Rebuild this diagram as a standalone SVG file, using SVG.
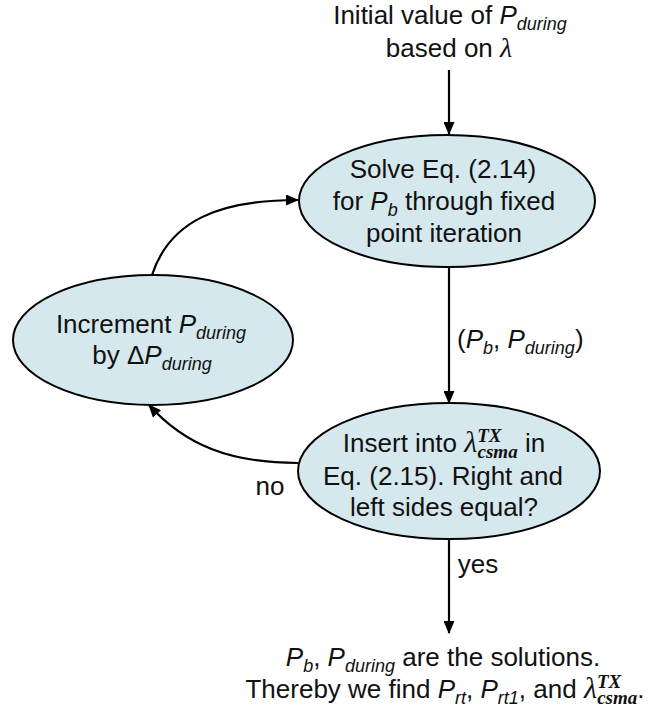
<svg xmlns="http://www.w3.org/2000/svg" width="651" height="717" viewBox="0 0 651 717">
<defs>
<marker id="arr" markerWidth="13" markerHeight="11" refX="12" refY="5.5" orient="auto" markerUnits="userSpaceOnUse">
<path d="M0,0 L13,5.5 L0,11 Z" fill="#000"/>
</marker>
<style>
text{font-family:"Liberation Sans",Arial,sans-serif;font-size:26px;fill:#111;text-anchor:middle}
.i{font-style:italic}
.s{font-size:18px;font-style:italic}
.m{font-family:"Liberation Serif","Times New Roman",serif;font-style:italic}
.ms{font-family:"Liberation Serif","Times New Roman",serif;font-style:italic;font-weight:bold;font-size:19px}
.node{fill:#d5e8ed;stroke:#000;stroke-width:2}
.edge{fill:none;stroke:#000;stroke-width:2.2}
</style>
</defs>
<rect width="651" height="717" fill="#fff"/>
<g id="start">
<text x="450" y="24">Initial value of <tspan class="i">P</tspan><tspan class="s" dy="6">during</tspan></text>
<text x="449" y="57">based on <tspan class="m" font-size="28">λ</tspan></text>
</g>
<g id="solve">
<ellipse class="node" cx="447" cy="201" rx="148" ry="66"/>
<text x="443" y="178">Solve Eq. (2.14)</text>
<text x="444" y="210">for <tspan class="i">P</tspan><tspan class="s" dy="6">b</tspan><tspan dy="-6"> through fixed</tspan></text>
<text x="444" y="242">point iteration</text>
</g>
<g id="increment">
<ellipse class="node" cx="153" cy="340" rx="140" ry="65"/>
<text x="151" y="333">Increment <tspan class="i">P</tspan><tspan class="s" dy="6">during</tspan></text>
<text x="152" y="364">by Δ<tspan class="i">P</tspan><tspan class="s" dy="6">during</tspan></text>
</g>
<g id="check">
<ellipse class="node" cx="449" cy="471" rx="151" ry="68"/>
<text x="444" y="452">Insert into <tspan class="m" font-size="30">λ</tspan><tspan class="ms" dy="-10">TX</tspan><tspan class="ms" dx="-24" dy="16">csma</tspan><tspan dy="-6"> in</tspan></text>
<text x="443" y="485">Eq. (2.15). Right and</text>
<text x="444" y="516">left sides equal?</text>
</g>
<g id="result">
<text x="443" y="666"><tspan class="i">P</tspan><tspan class="s" dy="6">b</tspan><tspan dy="-6">, </tspan><tspan class="i">P</tspan><tspan class="s" dy="6">during</tspan><tspan dy="-6"> are the solutions.</tspan></text>
<text x="445" y="698">Thereby we find <tspan class="i">P</tspan><tspan class="s" dy="6">rt</tspan><tspan dy="-6">, </tspan><tspan class="i">P</tspan><tspan class="s" dy="6">rt1</tspan><tspan dy="-6">, and </tspan><tspan class="m" font-size="30">λ</tspan><tspan class="ms" dy="-10">TX</tspan><tspan class="ms" dx="-24" dy="16">csma</tspan><tspan dy="-6">.</tspan></text>
</g>
<g id="connectors">
<path class="edge" d="M449,70 L449,134" marker-end="url(#arr)"/>
<path class="edge" d="M449,267 L449,403" marker-end="url(#arr)"/>
<path class="edge" d="M449,539 L449,633" marker-end="url(#arr)"/>
<path class="edge" d="M152,275 C170,220 220,200 298,200" marker-end="url(#arr)"/>
<path class="edge" d="M298,463 C230,463 185,445 149,405" marker-end="url(#arr)"/>
<text x="457" y="348" style="text-anchor:start">(<tspan class="i">P</tspan><tspan class="s" dy="6">b</tspan><tspan dy="-6">, </tspan><tspan class="i">P</tspan><tspan class="s" dy="6">during</tspan><tspan dy="-6">)</tspan></text>
<text x="270" y="495">no</text>
<text x="478" y="573">yes</text>
</g>
</svg>
